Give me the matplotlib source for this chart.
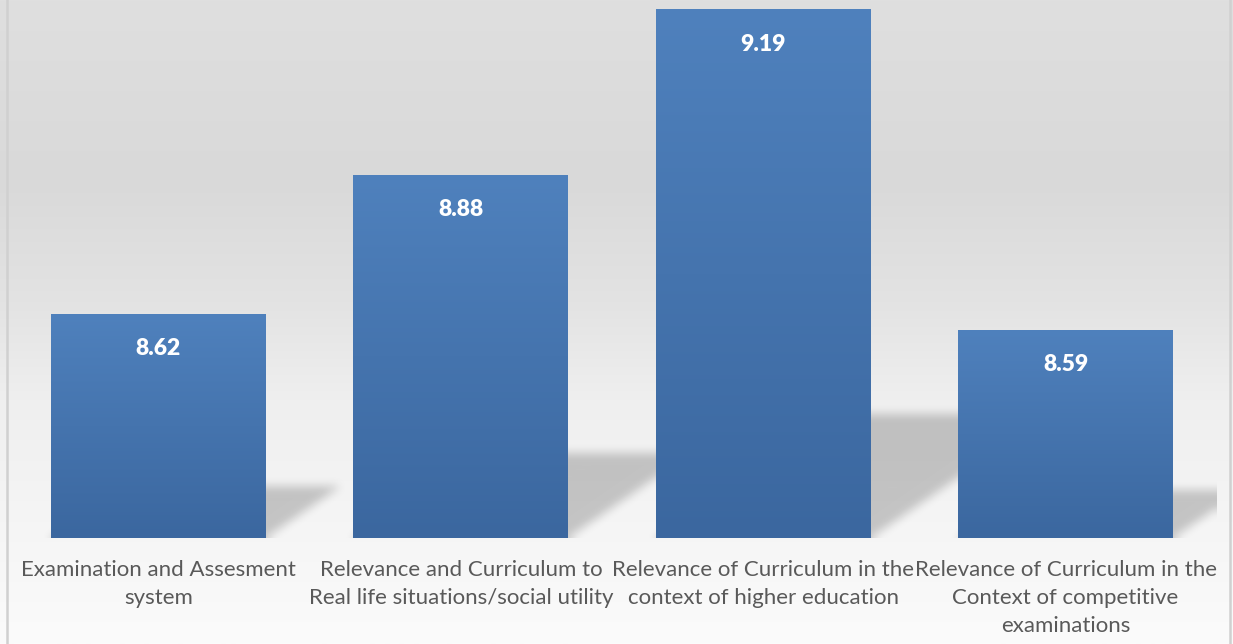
import numpy as np
import matplotlib
matplotlib.use("Agg")
import matplotlib.pyplot as plt
from matplotlib.colors import LinearSegmentedColormap
from matplotlib.lines import Line2D

plt.rcParams['font.family'] = ['Lato', 'DejaVu Sans']

categories = [
    "Examination and Assesment\nsystem",
    "Relevance and Curriculum to\nReal life situations/social utility",
    "Relevance of Curriculum in the\ncontext of higher education",
    "Relevance of Curriculum in the\nContext of competitive\nexaminations",
]
values = [8.62, 8.88, 9.19, 8.59]
value_labels = ["8.62", "8.88", "9.19", "8.59"]

ymin, ymax = 8.2, 9.2
bar_width = 0.71

fig = plt.figure(figsize=(12.33, 6.44), dpi=100)

# figure background gradient (grey at top, near white at bottom)
bg = fig.add_axes([0, 0, 1, 1], zorder=-10)
stops = [(0.0, '#fbfbfb'), (0.22, '#f4f4f4'), (0.38, '#efefef'),
         (0.53, '#e3e3e3'), (0.72, '#d9d9d9'), (1.0, '#dfdfdf')]
bg_cmap = LinearSegmentedColormap.from_list('bg', stops)
bg.imshow(np.linspace(0, 1, 256).reshape(-1, 1), cmap=bg_cmap, aspect='auto',
          origin='lower', extent=[0, 1, 0, 1])
bg.set_axis_off()

# chart border (left and right visible)
for xf in (6.5 / 1233, 1229.5 / 1233):
    fig.add_artist(Line2D([xf, xf], [0, 1], color='#d0d0d0', lw=1.8,
                          transform=fig.transFigure))

ax = fig.add_axes([7.25 / 1233, 106 / 644, 1209.5 / 1233, 534 / 644])
ax.set_facecolor('none')
ax.set_xlim(-0.5, len(values) - 0.5)
ax.set_ylim(ymin, ymax)
for s in ax.spines.values():
    s.set_visible(False)
ax.set_yticks([])

x = np.arange(len(values))
bars = ax.bar(x, values, width=bar_width, bottom=0, color='#4a7ab5', zorder=3)

# perspective shadows behind the bars
nx, ny = 1210, 534
px_x = nx / (len(values))
px_y = ny / (ymax - ymin)
mask = np.zeros((ny, nx))
cols = np.arange(nx)
for b, v in zip(bars, values):
    h_px = 0.235 * (v - ymin) * px_y
    dx_px = 1.45 * h_px
    x0 = (b.get_x() + 0.5) * px_x
    x1 = x0 + b.get_width() * px_x
    for r in range(int(h_px)):
        shift = dx_px * r / h_px
        mask[r, (cols >= x0 + shift) & (cols <= x1 + shift)] = 1.0


def box_blur(a, k, axis):
    pad = [(0, 0), (0, 0)]
    pad[axis] = (k, k)
    ap = np.pad(a, pad, mode='edge')
    c = np.cumsum(ap, axis=axis)
    c = np.insert(c, 0, 0, axis=axis)
    n = a.shape[axis]
    sl_hi = [slice(None)] * 2
    sl_lo = [slice(None)] * 2
    sl_hi[axis] = slice(2 * k + 1, 2 * k + 1 + n)
    sl_lo[axis] = slice(0, n)
    return (c[tuple(sl_hi)] - c[tuple(sl_lo)]) / (2 * k + 1)


for _ in range(3):
    mask = box_blur(mask, 4, 0)
    mask = box_blur(mask, 4, 1)

shadow = np.zeros((ny, nx, 4))
shadow[..., 3] = mask * 0.2
ax.imshow(shadow, origin='lower', aspect='auto', zorder=1,
          extent=[-0.5, len(values) - 0.5, ymin, ymax], interpolation='bilinear')

# bar gradient
bar_cmap = LinearSegmentedColormap.from_list('bar', ['#3b679f', '#4f81bd'])
grad = np.linspace(0, 1, 256).reshape(-1, 1)
for b in bars:
    im = ax.imshow(grad, cmap=bar_cmap, origin='lower', aspect='auto', zorder=4,
                   extent=[b.get_x(), b.get_x() + b.get_width(), ymin, b.get_height()])
    im.set_clip_path(b)

ax.set_xlim(-0.5, len(values) - 0.5)
ax.set_ylim(ymin, ymax)

for xi, v, lab in zip(x, values, value_labels):
    ax.annotate(lab, (xi, v), xytext=(0, -35), textcoords='offset pixels',
                ha='center', va='center', color='white', fontsize=16.5,
                fontweight='heavy', zorder=5)

ax.set_xticks(x)
ax.set_xticklabels(categories, color='#595959', fontsize=16, linespacing=1.5)
ax.tick_params(axis='x', length=0, pad=16)

fig.savefig("out.png", dpi=100)
